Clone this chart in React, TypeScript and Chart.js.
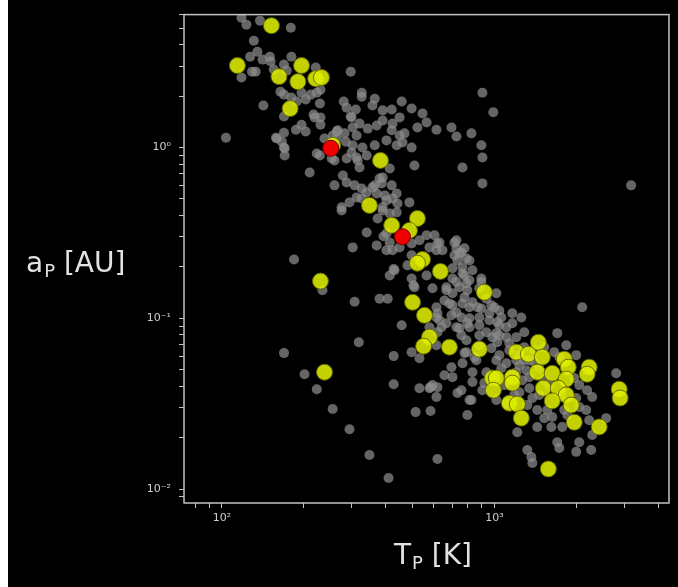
import { useEffect, useRef } from 'react';
import { Chart, registerables } from 'chart.js';

Chart.register(...registerables);

// Axis ranges (equilibrium temperature in K, semi-major axis in AU)
const T_MIN = 72.6;
const T_MAX = 4375;
const A_MIN = 0.00828;
const A_MAX = 6.0;

// Known planets: [T_P (K), a_P (AU)]
const allPlanets: [number, number][] = [
  [118, 5.76], [138, 5.53], [123, 5.24], [179, 5.03], [131, 4.22], [135, 3.64], [127, 3.40], [150, 3.40],
  [141, 3.27], [151, 3.19], [180, 3.40], [169, 3.06], [129, 2.78], [133, 2.78], [118, 2.57], [155, 2.86],
  [173, 2.82], [221, 2.94], [164, 2.12], [169, 2.04], [180, 1.96], [196, 2.09], [212, 2.04], [223, 2.09],
  [230, 2.18], [203, 1.91], [188, 1.86], [142, 1.76], [229, 1.81], [169, 1.52], [217, 1.56], [230, 1.50],
  [230, 1.36], [196, 1.36], [187, 1.27], [203, 1.24], [169, 1.22], [158, 1.14], [166, 1.08], [103.5, 1.14],
  [169, 1.0], [264, 1.24], [280, 1.86], [287, 1.71], [297, 1.52], [297, 2.78], [285, 1.08], [326, 2.09],
  [310, 1.67], [326, 1.98], [364, 1.93], [357, 1.76], [389, 1.65], [420, 1.67], [457, 1.86], [497, 1.69],
  [545, 1.58], [564, 1.40], [522, 1.31], [449, 1.50], [423, 1.38], [389, 1.44], [370, 1.345], [343, 1.29],
  [320, 1.38], [299, 1.50], [302, 1.31], [282, 1.21], [266, 1.26], [264, 1.13], [312, 1.175], [302, 1.03],
  [328, 1.0], [340, 0.898], [312, 0.874], [287, 0.862], [320, 0.764], [364, 1.03], [402, 1.10], [449, 1.175],
  [460, 1.07], [438, 1.03], [497, 1.0], [509, 0.785], [413, 0.754], [389, 0.668], [364, 0.60], [340, 0.545],
  [312, 0.51], [396, 0.524], [438, 0.538], [488, 0.477], [294, 0.477], [287, 0.624], [278, 0.686], [259, 0.60],
  [210, 0.714], [223, 0.922], [229, 0.898], [253, 0.862], [238, 1.13], [255, 1.175], [170, 0.986], [170, 0.898],
  [159, 1.13], [219, 1.50], [613, 1.27], [696, 1.31], [726, 1.16], [824, 1.21], [904, 2.09], [991, 1.61],
  [896, 1.03], [904, 0.874], [764, 0.764], [904, 0.616], [468, 1.21], [420, 1.26], [315, 0.839], [379, 0.658],
  [326, 0.575], [423, 0.503], [389, 0.446], [275, 0.446], [299, 0.935], [259, 0.839], [307, 0.60], [357, 0.584],
  [386, 0.616], [420, 0.60], [326, 0.503], [370, 0.538], [402, 0.49], [441, 0.47], [275, 0.428], [389, 0.428],
  [413, 0.411], [438, 0.417], [373, 0.384], [340, 0.318], [402, 0.314], [302, 0.26], [370, 0.267], [402, 0.25],
  [423, 0.25], [413, 0.278], [449, 0.26], [497, 0.274], [531, 0.286], [564, 0.306], [603, 0.306], [629, 0.278],
  [578, 0.26], [613, 0.25], [645, 0.25], [726, 0.286], [726, 0.257], [714, 0.234], [757, 0.243], [790, 0.224],
  [497, 0.234], [184, 0.221], [480, 0.204], [430, 0.191], [413, 0.178], [564, 0.178], [702, 0.196], [764, 0.183],
  [702, 0.171], [667, 0.152], [497, 0.171], [593, 0.15], [744, 0.152], [790, 0.16], [509, 0.152], [234, 0.146],
  [307, 0.125], [379, 0.13], [406, 0.13], [613, 0.116], [684, 0.122], [726, 0.108], [757, 0.101], [613, 0.101],
  [457, 0.091], [640, 0.0886], [578, 0.0886], [726, 0.0886], [796, 0.0935], [392, 0.302], [427, 0.194], [505, 0.156],
  [318, 0.0723], [169, 0.0625], [201, 0.047], [223, 0.0384], [427, 0.06], [497, 0.0633], [531, 0.0584], [427, 0.0411],
  [531, 0.0389], [255, 0.0294], [514, 0.0282], [294, 0.0224], [348, 0.0158], [409, 0.0116], [578, 0.0389], [764, 0.0545],
  [790, 0.0743], [777, 0.257], [732, 0.218], [810, 0.218], [831, 0.191], [896, 0.171], [810, 0.167], [881, 0.15],
  [777, 0.1325], [935, 0.13], [1017, 0.14], [1000, 0.116], [1043, 0.111], [867, 0.116], [810, 0.116], [881, 0.101],
  [959, 0.0973], [1025, 0.0947], [1107, 0.0886], [1164, 0.0935], [1164, 0.107], [1256, 0.101], [1288, 0.0828], [1107, 0.0775],
  [1017, 0.0818], [935, 0.0828], [810, 0.0886], [757, 0.0796], [667, 0.0935], [618, 0.0828], [613, 0.0695], [790, 0.0633],
  [845, 0.0592], [881, 0.0695], [1135, 0.0714], [1204, 0.0568], [1107, 0.0545], [1288, 0.0677], [1310, 0.0496], [702, 0.0452],
  [757, 0.0379], [618, 0.0395], [618, 0.274], [714, 0.278], [744, 0.24], [764, 0.199], [777, 0.178], [726, 0.163],
  [896, 0.163], [796, 0.146], [702, 0.14], [667, 0.146], [656, 0.127], [702, 0.119], [764, 0.122], [831, 0.124],
  [896, 0.114], [975, 0.119], [959, 0.107], [810, 0.0999], [696, 0.104], [618, 0.107], [1061, 0.101], [1043, 0.091],
  [881, 0.091], [744, 0.0874], [629, 0.0973], [2101, 0.116], [1702, 0.0818], [1836, 0.0695], [983, 0.0775], [1043, 0.0796],
  [1204, 0.0775], [881, 0.0796], [975, 0.0668], [1025, 0.0723], [1043, 0.0608], [1017, 0.0568], [859, 0.0568], [777, 0.0625],
  [1061, 0.051], [1235, 0.0531], [1204, 0.0483], [935, 0.0483], [831, 0.0483], [696, 0.0517], [656, 0.0464], [593, 0.0406],
  [831, 0.0423], [919, 0.0417], [1266, 0.0434], [1344, 0.0452], [1997, 0.0608], [2799, 0.0476], [2572, 0.026], [2286, 0.0207],
  [2049, 0.0188], [2267, 0.0169], [1997, 0.0165], [1702, 0.0188], [1731, 0.0174], [1321, 0.0169], [1367, 0.0154], [1379, 0.0142],
  [1618, 0.0231], [1775, 0.0231], [1437, 0.0231], [1437, 0.029], [1564, 0.029], [1631, 0.0264], [2173, 0.029], [2229, 0.0253],
  [2286, 0.0346], [2191, 0.0379], [1997, 0.0341], [824, 0.0332], [904, 0.0379], [1017, 0.0332], [1107, 0.0318], [1214, 0.0215],
  [1379, 0.0341], [618, 0.015], [583, 0.0395], [613, 0.0346], [732, 0.0365], [796, 0.0271], [810, 0.0332], [583, 0.0286],
  [1852, 0.0271], [2049, 0.0302], [3176, 0.60],
  [1288, 0.0568], [1402, 0.0553], [1462, 0.051], [1525, 0.0434], [1344, 0.0389], [1235, 0.0369], [1462, 0.0355], [1591, 0.0406],
  [1402, 0.065], [1525, 0.0677], [1659, 0.0633], [1731, 0.0592], [1964, 0.0446], [2049, 0.0406], [1760, 0.0355], [1805, 0.029],
  [1525, 0.026], [1321, 0.031], [1184, 0.0355], [1088, 0.0406], [1154, 0.0464], [1344, 0.0568], [1235, 0.0608], [1135, 0.065],
];

// Selected sample: [T_P (K), a_P (AU)]
const selectedPlanets: [number, number][] = [
  [152, 5.17], [114, 3.02], [162, 2.60], [196, 3.02], [190, 2.43], [221, 2.53], [232, 2.57], [178, 1.69],
  [255, 1.03], [382, 0.84], [348, 0.458], [420, 0.35], [522, 0.384], [488, 0.327], [545, 0.221], [522, 0.21],
  [634, 0.188], [230, 0.165], [501, 0.124], [554, 0.104], [919, 0.142], [578, 0.0775], [550, 0.0686], [684, 0.0677],
  [881, 0.0659], [1450, 0.0723], [1204, 0.0633], [1333, 0.0616], [1500, 0.0592], [1805, 0.0576], [1867, 0.0517], [2229, 0.0517],
  [2191, 0.047], [1437, 0.0483], [1631, 0.0476], [1836, 0.044], [983, 0.0446], [1017, 0.0446], [1164, 0.0452], [1164, 0.0417],
  [992, 0.0379], [1512, 0.0389], [1716, 0.0389], [1836, 0.0355], [1631, 0.0328], [1915, 0.031], [1135, 0.0318], [1214, 0.0314],
  [1256, 0.026], [1964, 0.0246], [2425, 0.0231], [2871, 0.0384], [2895, 0.0341], [1578, 0.0131], [238, 0.0483],
];

// Highlighted planets: [T_P (K), a_P (AU)]
const highlightedPlanets: [number, number][] = [
  [251, 0.99],
  [460, 0.30],
];

const FONT = '"DejaVu Sans", sans-serif';
const TICK_COLOR = '#cfcfcf';
const TITLE_COLOR = '#e2e2e2';
const FRAME_COLOR = '#c4c4c4';

const SUP: Record<string, string> = {
  '0': '\u2070', '1': '\u00b9', '2': '\u00b2', '3': '\u00b3', '4': '\u2074',
  '5': '\u2075', '6': '\u2076', '7': '\u2077', '8': '\u2078', '9': '\u2079', '-': '\u207b',
};

const toPoints = (rows: [number, number][]) => rows.map(([x, y]) => ({ x, y }));

// Decade + minor (2..9) ticks inside [min, max]
function logTicks(min: number, max: number) {
  const out: { value: number }[] = [];
  for (let e = Math.floor(Math.log10(min)); e <= Math.ceil(Math.log10(max)); e++) {
    for (let m = 1; m <= 9; m++) {
      const v = m * Math.pow(10, e);
      if (v >= min && v <= max) out.push({ value: v });
    }
  }
  return out;
}

function decadeLabel(value: number) {
  const e = Math.log10(value);
  const r = Math.round(e);
  if (Math.abs(e - r) > 1e-6) return '';
  return '10' + String(r).split('').map((c) => SUP[c]).join('');
}

function drawSubscripted(
  ctx: CanvasRenderingContext2D,
  base: string,
  sub: string,
  rest: string,
  x: number,
  baseline: number,
  centered: boolean,
) {
  const main = `28px ${FONT}`;
  const small = `18px ${FONT}`;
  ctx.font = main;
  const w1 = ctx.measureText(base).width;
  const w3 = ctx.measureText(rest).width;
  ctx.font = small;
  const w2 = ctx.measureText(sub).width;
  let cx = centered ? x - (w1 + w2 + w3) / 2 : x;
  ctx.textAlign = 'left';
  ctx.textBaseline = 'alphabetic';
  ctx.fillStyle = TITLE_COLOR;
  ctx.font = main;
  ctx.fillText(base, cx, baseline);
  cx += w1;
  ctx.font = small;
  ctx.fillText(sub, cx + 1, baseline + 5);
  cx += w2 + 1;
  ctx.font = main;
  ctx.fillText(rest, cx, baseline);
}

const frameAndTitles = {
  id: 'frameAndTitles',
  afterDatasetsDraw(chart: Chart) {
    const { ctx, chartArea } = chart;
    const { left, top, right, bottom } = chartArea;
    ctx.save();
    ctx.strokeStyle = FRAME_COLOR;
    ctx.lineWidth = 1.5;
    ctx.strokeRect(left, top, right - left, bottom - top);
    drawSubscripted(ctx, 'a', 'P', ' [AU]', 18, 272, false);
    drawSubscripted(ctx, 'T', 'P', ' [K]', (left + right) / 2 + 6, 564, true);
    ctx.restore();
  },
};

export default function App() {
  const canvasRef = useRef<HTMLCanvasElement | null>(null);

  useEffect(() => {
    const canvas = canvasRef.current;
    if (!canvas) return;

    const axisCommon = {
      type: 'logarithmic' as const,
      border: { display: false },
      grid: {
        drawOnChartArea: false,
        drawTicks: true,
        tickLength: 5,
        color: FRAME_COLOR,
        tickColor: FRAME_COLOR,
        lineWidth: 1,
      },
      ticks: {
        color: TICK_COLOR,
        font: { family: FONT, size: 11 },
        autoSkip: false,
        maxRotation: 0,
        minRotation: 0,
        callback: (value: number | string) => decadeLabel(Number(value)),
      },
      afterBuildTicks: (scale: any) => {
        scale.ticks = logTicks(scale.min, scale.max);
      },
    };

    const chart = new Chart(canvas, {
      type: 'scatter',
      data: {
        datasets: [
          {
            label: 'all',
            data: toPoints(allPlanets),
            pointRadius: 5,
            pointBackgroundColor: 'rgba(140,140,140,0.72)',
            pointBorderWidth: 0,
            pointBorderColor: 'rgba(0,0,0,0)',
            order: 3,
          },
          {
            label: 'selected',
            data: toPoints(selectedPlanets),
            pointRadius: 8,
            pointBackgroundColor: 'rgba(222,238,0,0.88)',
            pointBorderColor: 'rgba(95,100,0,0.9)',
            pointBorderWidth: 1,
            order: 2,
          },
          {
            label: 'highlighted',
            data: toPoints(highlightedPlanets),
            pointRadius: 8,
            pointBackgroundColor: '#f00000',
            pointBorderColor: '#7a0000',
            pointBorderWidth: 1,
            order: 1,
          },
        ],
      },
      options: {
        responsive: false,
        animation: false,
        devicePixelRatio: 1,
        layout: { padding: { left: 0, right: 8, top: 14, bottom: 0 } },
        plugins: {
          legend: { display: false },
          tooltip: { enabled: false },
        },
        events: [],
        scales: {
          x: {
            ...axisCommon,
            position: 'bottom',
            min: T_MIN,
            max: T_MAX,
            ticks: { ...axisCommon.ticks, padding: 4 },
            afterFit: (scale: any) => {
              scale.height = 84;
            },
          },
          y: {
            ...axisCommon,
            position: 'left',
            min: A_MIN,
            max: A_MAX,
            ticks: { ...axisCommon.ticks, padding: 8 },
            afterFit: (scale: any) => {
              scale.width = 176;
            },
          },
        },
      } as any,
      plugins: [frameAndTitles],
    });

    return () => chart.destroy();
  }, []);

  return (
    <div
      style={{
        position: 'fixed',
        left: 8,
        top: 0,
        width: 670,
        height: 587,
        background: '#000',
      }}
    >
      <canvas ref={canvasRef} width={670} height={587} style={{ display: 'block' }} />
    </div>
  );
}
